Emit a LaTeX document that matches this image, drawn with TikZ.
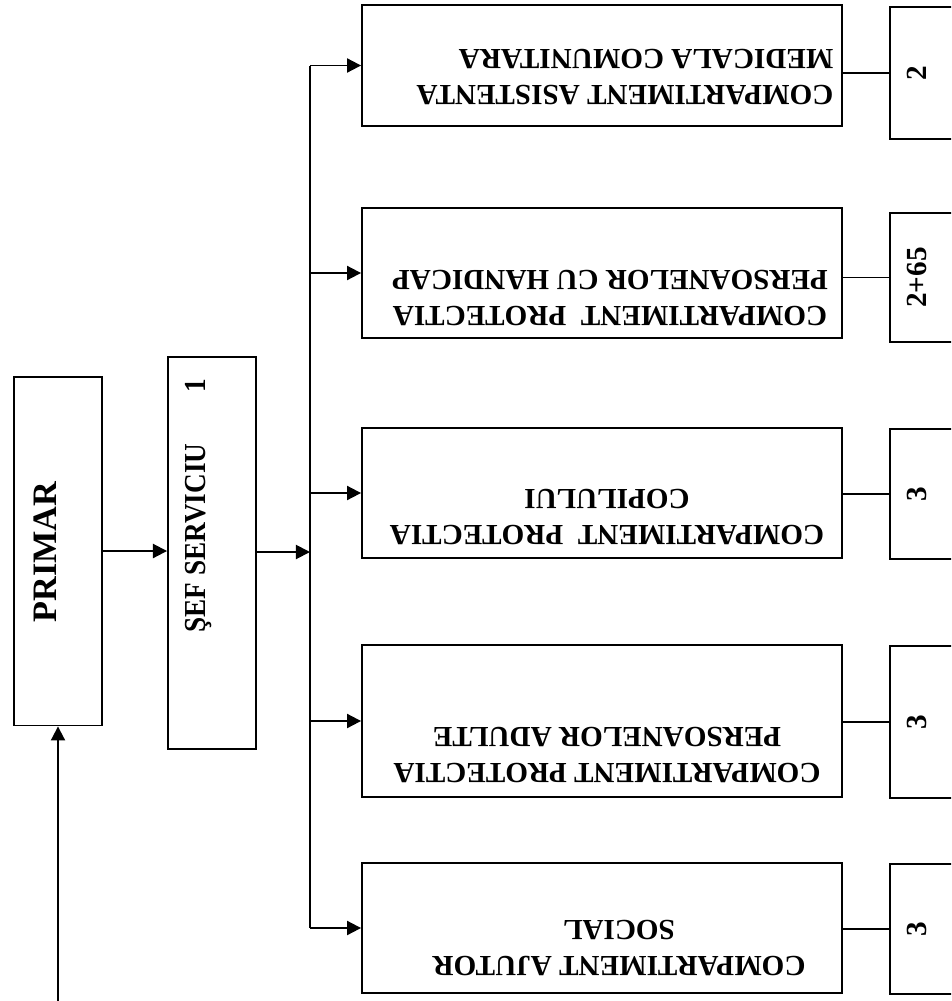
\documentclass[tikz,border=0pt]{standalone}
\usepackage{fontspec}
\setmainfont{Liberation Serif}
\usepackage{tikz}
\usetikzlibrary{arrows.meta,positioning,calc}

\tikzset{
    box/.style={draw, line width=1.1pt, inner sep=0pt},
    lbl/.style={font=\bfseries\fontsize{16.6}{21}\selectfont, inner sep=0pt, align=center},
    arr/.style={line width=1.1pt, -{Triangle[length=8pt,width=8pt]}},
    wire/.style={line width=1.1pt}
}

\begin{document}
\begin{tikzpicture}[x=0.02cm, y=-0.02cm]
    \useasboundingbox (0,0) rectangle (951,1001);
    \clip (0,0) rectangle (951,1001);
    % Primar and sef serviciu
    \node[box, minimum width=1.76cm, minimum height=6.98cm] (primar) at (58,551) {};
    \node[lbl, rotate=90, font=\bfseries\fontsize{19.5}{23}\selectfont] (primartxt) at (45,552) {PRIMAR};
    \node[box, minimum width=1.76cm, minimum height=7.84cm] (sef) at (212,553) {};
    \node[lbl, rotate=90, yscale=1.12, anchor=base west, font=\bfseries\fontsize{15.5}{19}\selectfont] (seftxt) at (205,633) {ŞEF SERVICIU\hspace{29pt}1};
    % Compartments
    \node[box, minimum width=9.6cm, minimum height=2.42cm] (comp1) at (602,65.5) {};
    \node[box, minimum width=9.6cm, minimum height=2.6cm] (comp2) at (602,273) {};
    \node[box, minimum width=9.6cm, minimum height=2.6cm] (comp3) at (602,493) {};
    \node[box, minimum width=9.6cm, minimum height=3.04cm] (comp4) at (602,721) {};
    \node[box, minimum width=9.6cm, minimum height=2.6cm] (comp5) at (602,928) {};
    \node[lbl, rotate=180, align=left] (comp1txt) at (625,77) {COMPARTIMENT ASISTENTA\\MEDICALA COMUNITARA};
    \node[lbl, rotate=180] (comp2txt) at (610,298) {COMPARTIMENT\ \ PROTECTIA\\PERSOANELOR CU HANDICAP};
    \node[lbl, rotate=180] (comp3txt) at (607,517) {COMPARTIMENT\ \ PROTECTIA\\COPILULUI};
    \node[lbl, rotate=180] (comp4txt) at (607,755) {COMPARTIMENT PROTECTIA\\PERSOANELOR ADULTE};
    \node[lbl, rotate=180] (comp5txt) at (619,948) {COMPARTIMENT AJUTOR\\SOCIAL};
    % Staff numbers
    \foreach \i/\y/\h/\n in {1/73/2.64/2, 2/277.5/2.58/2+65, 3/494/2.6/3, 4/722/3.04/3, 5/929/2.6/3} {
        \node[box, minimum width=2.4cm, minimum height=\h cm] (nr\i) at (950,\y) {};
        \node[lbl, rotate=90] (nr\i txt) at (917,\y) {\n};
    }
    % Connectors
    \coordinate (in) at (58,1010);
    \coordinate (bus) at (310,552);
    \draw[arr] (in) -- (primar.south);
    \draw[arr] (primar.east) -- (primar.east -| sef.west);
    \draw[arr] (sef.east |- bus) -- (bus);
    \draw[wire] (comp1.west -| bus) -- (comp5.west -| bus);
    \foreach \i in {1,...,5}
        \draw[arr] (comp\i.west -| bus) -- (comp\i.west);
    \foreach \i in {1,...,5}
        \draw[wire] (nr\i.west -| comp\i.east) -- (nr\i.west);
\end{tikzpicture}
\end{document}
